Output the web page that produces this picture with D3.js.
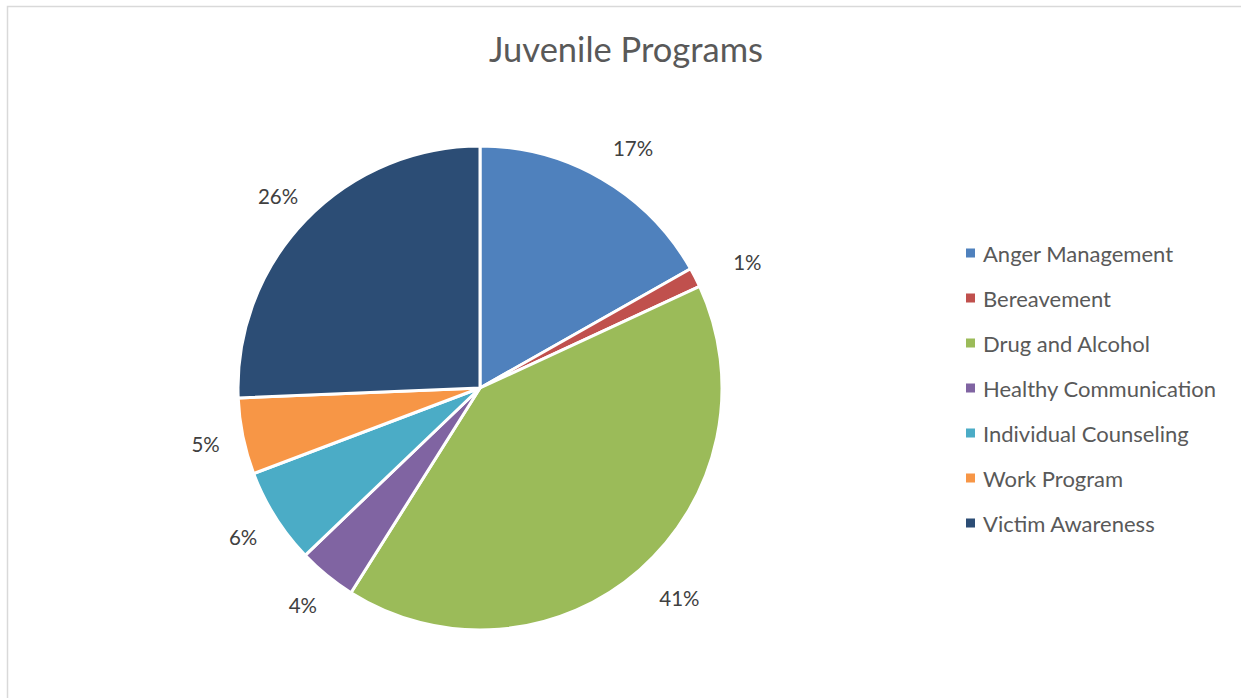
<!DOCTYPE html>
<html><head><meta charset="utf-8">
<script src="https://cdn.jsdelivr.net/npm/d3@7"></script>
<style>
html,body{margin:0;padding:0;background:#fff;}
svg{display:block;}
</style></head>
<body>
<svg id="chart" width="1241" height="698"></svg>
<script>
const title = "Juvenile Programs";
const categories = ["Anger Management","Bereavement","Drug and Alcohol","Healthy Communication","Individual Counseling","Work Program","Victim Awareness"];
const values = [16.8, 1.3, 40.85, 3.9, 6.4, 5.1, 25.65];
const colors = ["#4f81bd","#c0504d","#9bbb59","#8064a2","#4bacc6","#f79646","#2c4d75"];

const svg = d3.select("#chart");
const font = "Lato, 'Open Sans', sans-serif";

// frame
svg.append("path").attr("d","M7.5,698 V6.5 H1241").attr("fill","none").attr("stroke","#d9d9d9").attr("stroke-width",1.5);

svg.append("text").attr("x",626).attr("y",62).attr("text-anchor","middle")
  .attr("font-family",font).attr("font-size",34.5).attr("fill","#595959").text(title);

const cx = 480, cy = 388, r = 242;
const total = d3.sum(values);
const data = categories.map((c,i)=>({name:c,value:values[i],color:colors[i]}));
const pie = d3.pie().sort(null).value(d=>d.value);
const arcs = pie(data);
const arc = d3.arc().innerRadius(0).outerRadius(r);
const labelArc = d3.arc().innerRadius(1).outerRadius(1);

const g = svg.append("g").attr("transform",`translate(${cx},${cy})`);
g.selectAll("path").data(arcs).join("path")
  .attr("d",arc).attr("fill",d=>d.data.color)
  .attr("stroke","#fff").attr("stroke-width",3).attr("stroke-linejoin","round");

const fmt = d3.format(".0%");
g.selectAll("text.lbl").data(arcs).join("text").attr("class","lbl")
  .attr("transform",d=>{const [ux,uy]=labelArc.centroid(d);return `translate(${ux*(ux>0?296:280)+(ux>0?4:0)},${uy*280+(uy<0?2:0)})`;})
  .attr("text-anchor","middle").attr("dominant-baseline","central")
  .attr("font-family",font).attr("font-size",20.5).attr("fill","#404040")
  .text(d=>fmt(d.data.value/total));

const legend = svg.append("g").attr("transform","translate(966,253)");
const rows = legend.selectAll("g").data(data).join("g")
  .attr("transform",(d,i)=>`translate(0,${i*45})`);
rows.append("rect").attr("x",0).attr("y",-4.5).attr("width",9).attr("height",9).attr("fill",d=>d.color);
rows.append("text").attr("x",17).attr("y",0).attr("dominant-baseline","central")
  .attr("font-family",font).attr("font-size",22).attr("fill","#595959").text(d=>d.name);
</script>
</body></html>
